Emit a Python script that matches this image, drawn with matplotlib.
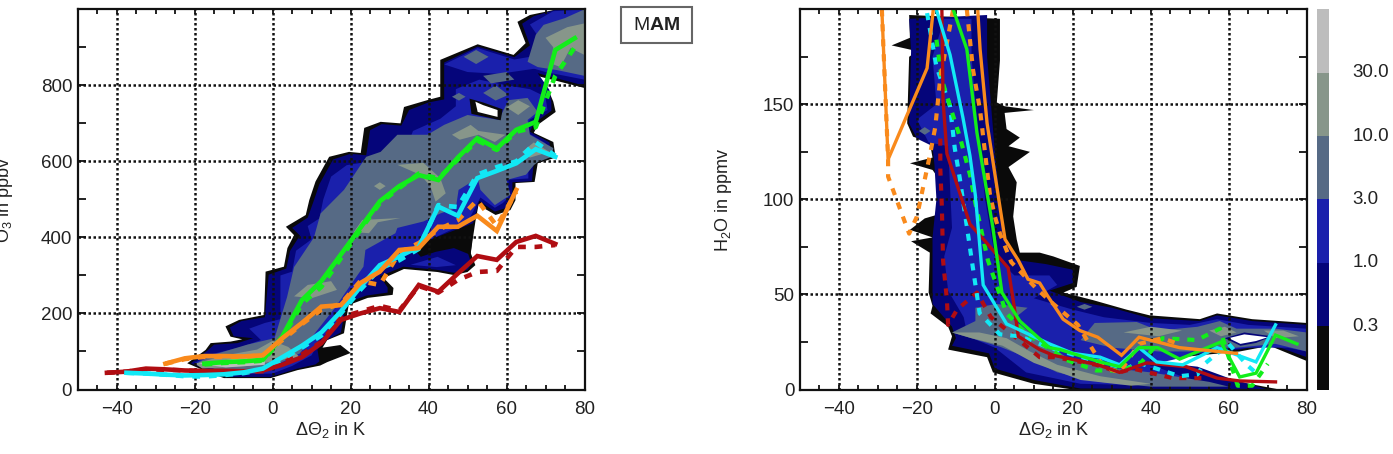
import numpy as np
import matplotlib
matplotlib.use("Agg")
import matplotlib.pyplot as plt
from matplotlib.colors import ListedColormap
from matplotlib.patches import Rectangle
from matplotlib.ticker import MultipleLocator

plt.rcParams["font.family"] = ["Liberation Sans", "DejaVu Sans"]
plt.rcParams["mathtext.fontset"] = "custom"
plt.rcParams["mathtext.rm"] = "Liberation Sans"
plt.rcParams["mathtext.bf"] = "Liberation Sans:bold"

BLACK = "#0a0a0a"
NAVY = "#05057a"
BLUE = "#1a20ac"
SLATE = "#566a85"
SAGE = "#87968a"
LIGHT = "#bdbdbd"
RED = "#b00d12"
ORANGE = "#f98a1c"
GREEN = "#12ee1a"
CYAN = "#12e8f5"

cbar_labels = ["0.3", "1.0", "3.0", "10.0", "30.0"]
cbar_colors = [BLACK, NAVY, BLUE, SLATE, SAGE, LIGHT]

# --- O3 panel, frequency regions (dTheta, ppbv) ---
o3_black = [(-21.9, 69), (-17.2, 104), (-15.9, 122), (-10.8, 126), (-7.8, 132), (-10.8, 139), (-12.1, 166),
            (-8.6, 183), (-2.2, 196), (-1.8, 310), (2.9, 323), (3.8, 372), (5.5, 406), (3.4, 428), (8.5, 459),
            (9.4, 498), (11, 547), (14.5, 612), (19.6, 625), (22.6, 622), (23.5, 688), (27.7, 704), (32.8, 700),
            (33.7, 743), (40, 762), (43, 770), (43, 867), (52.6, 908), (61.8, 880), (64.9, 911), (62.8, 967),
            (66, 985), (73, 1000), (80, 1000), (80, 793), (67, 827), (70.5, 793), (72, 757), (72.6, 730),
            (68, 696), (67, 675), (72, 651), (72.6, 610), (68, 595), (67.2, 546), (62.3, 543), (62.3, 498),
            (61, 472), (57.2, 459), (52.8, 485), (52, 441), (50.8, 359), (52, 327), (50, 309), (46.5, 301),
            (42.3, 309), (33.7, 317), (28.5, 293), (31, 267), (30.8, 249), (24.4, 241), (19.5, 222), (18.3, 148),
            (14, 130), (12.8, 110), (17.4, 117), (20, 96), (14, 72), (12.2, 63), (6.4, 51), (-0.5, 30),
            (-12.5, 30), (-16, 43)]
o3_navy = [(-21, 69), (-17, 100), (-15, 118), (-9, 122), (-5, 135), (-10, 140), (-11, 163), (-8, 180), (-2, 190),
           (-1, 302), (3.5, 318), (4.5, 365), (7, 405), (5, 425), (9, 452), (10.5, 495), (12, 540), (15.5, 605),
           (20, 620), (24, 616), (25, 682), (28, 698), (33, 694), (35, 735), (40, 755), (44, 763), (44, 860),
           (52.6, 902), (62, 874), (66, 905), (64, 962), (67, 982), (73, 1000), (80, 1000), (80, 799), (68, 832),
           (71, 788), (71.5, 755), (71.5, 733), (67, 700), (66, 678), (71, 650), (71.5, 615), (67, 598), (66.5, 548),
           (61.5, 545), (61.5, 500), (60, 478), (57, 468), (53, 496), (51.5, 441), (50, 362), (51, 330), (50, 315),
           (46.5, 307), (42, 315), (33.5, 323), (27.5, 298), (29.5, 268), (29.5, 255), (24, 247), (19, 228),
           (17.5, 150), (13.5, 128), (11.5, 105), (12, 74), (11, 66), (6, 54), (-0.5, 33), (-12, 33),
           (-15.5, 46)]
o3_black_patch = [(38.8, 388), (51.6, 438), (50.8, 354), (46.5, 372), (41.8, 362), (38, 349), (36, 372)]
o3_blue_patch = [(35.4, 328), (42.3, 349), (47, 327), (42, 322)]
o3_blue = [(-20, 70), (-16, 92), (-8, 112), (-3, 130), (-6, 160), (-2, 175), (2, 185), (2, 300), (5, 310), (6, 365),
           (10, 395), (9, 430), (12, 450), (13, 500), (15, 560), (19, 590), (25, 600), (29, 632), (34, 625),
           (36, 680), (43, 712), (47, 745), (47, 790), (53, 815), (60, 800), (66, 790), (70, 770), (70.5, 735),
           (66, 710), (65, 678), (70, 648), (70, 620), (65.6, 600), (65.6, 555), (60.5, 552), (60.5, 505), (59, 490),
           (57, 478), (53.3, 505), (50, 440), (40, 392), (37, 372), (30, 345), (27, 310), (24, 270), (20, 250),
           (17, 175), (12, 130), (10, 90), (5, 62), (0, 42), (-10, 40), (-16, 55)]
o3_blue_top = [(44, 855), (52.6, 898), (62, 868), (66, 875), (68, 845), (58, 830), (50, 835)]
o3_blue_corner = [(65, 850), (68, 930), (66, 960), (72, 995), (80, 1000), (80, 815), (70, 835)]
o3_slate = [(-19, 72), (-15, 92), (-6.5, 118), (0.5, 135), (3.7, 243), (5.5, 322), (10.6, 400), (12.3, 463),
            (18.3, 525), (24, 612), (27.7, 625), (32, 670), (39.7, 670), (44, 696), (50, 722), (58, 709), (60.5, 761),
            (65.4, 767), (68, 730), (65.4, 709), (66, 670), (72, 635), (71.6, 612), (68, 598), (67, 590), (65, 565),
            (60, 551), (61, 512), (57, 485), (53.3, 525), (52.6, 556), (47.7, 525), (47, 477), (43, 463), (38.7, 442),
            (32, 425), (31.5, 411), (23.8, 367), (23.3, 323), (20, 275), (16, 215), (11, 150), (7, 95), (2, 70),
            (-5, 50), (-14, 50)]
o3_slate_corner = [(65.4, 862), (67.5, 933), (69.5, 959), (75, 977), (80, 1000), (80, 825), (73, 840), (68, 848)]
o3_slate_isles = [[(49, 875), (52.2, 893), (55.4, 875), (52.2, 856)],
                  [(46, 770), (47.8, 780), (49.5, 770), (47.8, 760)],
                  [(54, 780), (57.2, 800), (60.5, 775), (57.2, 760)],
                  [(54, 825), (60, 835), (62, 815), (56, 805)]]
o3_sage_isles = [[(-20, 68), (-12, 90), (-4, 105), (0, 128), (4, 112), (7, 85), (2, 78), (-6, 62), (-18, 55)],
                 [(5.5, 245), (9, 275), (15, 285), (16.5, 262), (10, 240)],
                 [(26, 535), (27.5, 545), (29, 535), (27.5, 525)],
                 [(32, 591), (38.7, 596), (43, 556), (44.4, 516), (41.8, 494), (40.5, 534), (38, 564)],
                 [(20.8, 414), (23, 446), (32.8, 451), (27, 440), (24.7, 411)],
                 [(46, 670), (50.8, 696), (52.8, 680), (59.7, 670), (57, 651), (52.8, 670), (48, 657)],
                 [(60, 742), (63, 761), (66, 745), (63, 722)],
                 [(64, 625), (67, 650), (71, 625), (66, 610)],
                 [(70, 925), (75.6, 953), (80, 963), (80, 880), (76.4, 898), (73.8, 848), (71.3, 858), (72, 900)]]
o3_light = [(-19, 68), (-10, 80), (-2, 85), (-2, 65), (-12, 58)]
o3_hole_rim = [(50.5, 765), (51, 725), (58.5, 708), (59, 737), (54, 755)]
o3_hole = [(52, 757), (52.6, 730), (57.7, 717), (57.7, 735), (54, 748)]

# --- O3 panel, profiles (5 K bins) ---
o3_green_x = [-17.5, -12.5, -7.5, -2.5, 2.5, 7.5, 12.5, 17.5, 22.5, 27.5, 32.5, 37.5, 42.5, 47.5, 52.5, 57.5, 62.5, 67.5, 72.5, 77.5]
o3_green = [68, 72, 74, 78, 140, 235, 285, 355, 425, 495, 535, 564, 551, 610, 661, 634, 683, 704, 893, 924]
o3_green_d = [66, 70, 72, 76, 135, 225, 270, 345, 420, 490, 530, 568, 555, 605, 655, 630, 678, 690, 825, 900]
o3_cyan_x = [-37.5, -32.5, -27.5, -22.5, -17.5, -12.5, -7.5, -2.5, 2.5, 7.5, 12.5, 17.5, 22.5, 27.5, 32.5, 37.5, 42.5, 47.5, 52.5, 57.5, 62.5, 67.5, 72.5]
o3_cyan = [44, 42, 39, 37, 38, 40, 45, 55, 85, 115, 150, 205, 270, 327, 350, 375, 481, 457, 556, 575, 595, 632, 612]
o3_cyan_d = [44, 42, 39, 35, 34, 38, 43, 52, 80, 110, 142, 200, 262, 318, 340, 370, 485, 480, 565, 585, 600, 650, 615]
o3_orange_x = [-27.5, -22.5, -17.5, -12.5, -7.5, -2.5, 2.5, 7.5, 12.5, 17.5, 22.5, 27.5, 32.5, 37.5, 42.5, 47.5, 52.5, 57.5, 62.5]
o3_orange = [68, 82, 88, 88, 87, 90, 135, 175, 218, 222, 280, 310, 367, 372, 428, 428, 457, 417, 525]
o3_orange_d = [68, 80, 86, 86, 86, 90, 130, 172, 210, 225, 285, 275, 360, 385, 420, 445, 498, 430, 520]
o3_red_x = [-42.5, -37.5, -32.5, -27.5, -22.5, -17.5, -12.5, -7.5, -2.5, 2.5, 7.5, 12.5, 17.5, 22.5, 27.5, 32.5, 37.5, 42.5, 47.5, 52.5, 57.5, 62.5, 67.5, 72.5]
o3_red = [44, 47, 55, 53, 50, 49, 49, 48, 50, 65, 85, 122, 183, 200, 214, 204, 275, 257, 305, 351, 341, 388, 404, 383]
o3_red_d = [44, 47, 53, 52, 50, 48, 47, 46, 48, 70, 92, 125, 190, 205, 220, 208, 272, 255, 288, 309, 312, 375, 375, 380]

# --- H2O panel, frequency regions (dTheta, ppmv) ---
h2o_black = [(-22, 197), (-21.8, 185), (-26.5, 181), (-20, 178), (-22, 175), (-22.5, 140), (-21, 133), (-16.7, 130),
             (-16, 122), (-21.8, 119), (-16, 115.5), (-13, 107), (-11, 100), (-13, 93), (-18, 90), (-21.8, 84),
             (-16, 80), (-21.5, 78), (-16.7, 72), (-17, 51), (-16, 44), (-16.5, 40), (-12, 33), (-11, 28), (-12, 21),
             (-2, 17), (-0.5, 9), (10, 3), (20, 0), (73, 0), (60, 5), (52, 11), (41.5, 13.5), (41.8, 15.5), (52.6, 18),
             (62.8, 20), (70.5, 23), (80, 15), (80, 35), (66, 37), (57, 40), (52.6, 37), (39.7, 39), (33.8, 42),
             (25.2, 47), (17.6, 51), (21, 54), (21.8, 65), (15, 70), (11.5, 72), (6.4, 72), (5.6, 79), (4.7, 91),
             (5.6, 109), (3.5, 117), (9, 125), (3.5, 128), (6.4, 132.5), (3, 137), (2.5, 145.5), (10, 147), (2.5, 149),
             (0.5, 151), (1.3, 173), (1.3, 195)]
h2o_navy = [(-22, 195), (-21.5, 178), (-22, 140), (-20, 132), (-16, 128), (-15.5, 118), (-15, 100), (-16, 80),
            (-16, 45), (-11, 33), (-10, 27), (-11, 23), (-1.5, 19), (0, 11), (10, 5), (22, 0.5), (70, 0), (60, 6),
            (52, 12), (41, 14.5), (52.6, 19), (62.8, 21), (70.5, 24), (80, 17), (80, 34), (66, 36), (57, 39),
            (52.6, 36), (39.7, 37.5), (30, 43), (22, 46), (14, 52), (20, 56), (20, 63), (13, 66), (6, 68), (2.5, 78),
            (1.5, 96), (0, 125), (-1, 150), (-2, 175), (-2, 197)]
h2o_blue = [(-13, 195), (-16, 175), (-15, 150), (-20, 142), (-17, 130), (-12, 128), (-11, 85), (-13, 70), (-12, 52),
            (-8, 38), (-7, 28), (0, 22), (8, 9), (22, 3), (55, 1.5), (40, 13), (55, 20), (65, 22), (75, 22), (80, 20),
            (80, 32), (65, 34), (57, 37), (50, 34), (40, 35), (28, 38), (20, 42), (10, 48), (16, 55), (14, 60), (5, 60),
            (0, 70), (-2.5, 100), (-4.5, 140), (-6, 175), (-6, 195)]
h2o_slate = [[(-5, 43), (0.4, 45), (8.4, 43), (4.7, 37), (11.5, 26), (18.4, 17), (27, 12), (40, 9), (55, 4), (60, 1.5),
              (40, 1.5), (27, 4), (16, 9), (8, 17), (1.3, 22.5), (-11, 30), (-5, 36)],
             [(25.6, 35), (36.4, 35.5), (42, 31), (52, 33), (57.7, 36), (62, 32), (72, 32), (80, 30), (80, 20), (72, 24),
              (62, 22), (55, 22), (50, 20), (42, 20), (30, 22), (22, 26)],
             [(-19.5, 136), (-18, 138), (-16.5, 136), (-18, 134)],
             [(21, 43.5), (23, 45), (25, 43.5), (23, 42)]]
h2o_sage = [[(-11, 30), (-4, 30), (3, 27), (9, 20), (16, 13), (27, 7), (40, 3), (35, 2), (22, 5), (10, 14), (2, 23), (-6, 27)],
            [(33, 30), (40, 33), (48, 31), (42, 28)],
            [(55, 31), (59, 33), (62, 30), (58, 28)],
            [(69, 31), (74, 31), (78, 28), (72, 27)]]
h2o_hole_rim = [(59, 27), (64, 30), (71, 28), (67, 24.5), (63, 23)]
h2o_hole = [(60, 27), (64, 29), (70, 27.5), (67, 25.5), (63, 24)]

# --- H2O panel, profiles ---
h2o_orange_x = [-29, -27.4, -17.4, -15.8, np.nan, -4.4, -3.8, -2, 1.3, 2.6, 6, 8.5, 11.5, 13.6, 17.5, 21.8, 26.4, 32.5, 37, 47.4, 62]
h2o_orange = [200, 121, 169, 200, np.nan, 200, 179, 140, 96, 79, 68, 58, 56, 49, 37, 31, 27.5, 18, 27.5, 22, 19]
h2o_orange_dx = [-29, -27.4, -27.4, -22, -20, -16.6, -15.3, -14, -10.7, np.nan, -7.2, -5.6, -3.8, -1.3, 0, 1.3, 4.2, 10.7, 15, 21.3, 24.8, 27.8, 32, 37, 43, 47]
h2o_orange_d = [200, 121, 112, 82, 91, 124, 138, 164, 200, np.nan, 200, 168, 147, 103, 91, 82, 67, 53, 45, 34, 22, 12, 9, 24, 27, 24]
h2o_cyan_x = [-14.9, -11.5, -8.2, -6.4, -5, -3, 3, 14, 20, 27, 32, 37, 41.5, 48.2, 57, 67, 72]
h2o_cyan = [199, 176, 143, 123, 102, 55, 34.5, 24, 19, 17, 13, 22, 14.5, 13, 22, 14.5, 34]
h2o_cyan_dx = [-17.4, -15, -11.5, -10.3, -9, -6, -3.9, 1.3, 6.4, 14, 24, 33.7, 37, 47.4, 52, 53.5, 60, 64.6, 68]
h2o_cyan_d = [198, 170, 149, 127, 111, 69, 40, 29, 28, 22, 16, 11, 14, 7, 8, 13, 24, 13, 7]
h2o_green_x = [-10.7, -7.2, -4.6, -0.5, 1.8, 6.4, 14, 16.7, 27, 32, 37, 41.8, 47.4, 58, 62.8, 67, 72, 77.5]
h2o_green = [200, 179, 135, 85, 51, 36, 22, 21, 14.5, 12, 22, 22, 16, 25, 6.6, 8.6, 28.6, 24]
h2o_green_dx = [-15, -13.6, -11.5, -9, -6.4, -5, -1.8, 0.4, 3, 8, 18.4, 26, 32, 37, 43, 51.8, 57.7, 62.3, 66, 70]
h2o_green_d = [184, 163, 149, 133, 113, 98, 68, 55, 40, 29.5, 15.5, 10, 10, 13, 27, 26, 32, 2, 2, 13.5]
h2o_red_x = [-13.6, -13.3, -12.3, -6.4, -2.5, 3.4, 5, 6, 11.5, 15, 26.5, 32, 39, 49, 57, 62.8, 72]
h2o_red = [200, 152, 124, 87, 78, 64, 43, 28, 21, 18, 13, 9, 14, 12, 6, 4.5, 4]
h2o_red_dx = [-14, -14, -13.6, -13.3, -12.3, -12, -9.7, -4.6, -1, 3.8, 11.5, 15.4, 26, 32, 35.4, 45.6, 53.4]
h2o_red_d = [132, 116, 96, 68, 47, 34, 42, 51, 38, 30, 17, 17, 13, 9, 11, 6, 6]


def fill_poly(ax, pts, color, z=1):
    xs, ys = zip(*pts)
    ax.fill(xs, ys, color=color, lw=0, zorder=z)


def style_axes(ax, ymax, ymajor, ytick):
    ax.set_xlim(-50, 80)
    ax.set_ylim(0, ymax)
    ax.set_xticks([-40, -20, 0, 20, 40, 60, 80])
    ax.set_xticklabels(["\u221240", "\u221220", "0", "20", "40", "60", "80"])
    ax.xaxis.set_minor_locator(MultipleLocator(5))
    ax.set_yticks(np.arange(0, ymax, ymajor))
    ax.yaxis.set_minor_locator(MultipleLocator(ytick))
    ax.tick_params(which="major", axis="x", direction="in", top=True, length=3.8, width=1.3, labelsize=13.5, pad=8.5, color="#111111", labelcolor="#222222")
    ax.tick_params(which="minor", axis="x", direction="in", top=True, length=3.8, width=1.3, color="#111111")
    ax.tick_params(which="major", axis="y", direction="in", right=True, length=6, width=1.3, labelsize=13.5, pad=4, color="#111111", labelcolor="#222222")
    ax.tick_params(which="minor", axis="y", direction="in", right=True, length=6, width=1.3, color="#111111")
    for s in ax.spines.values():
        s.set_linewidth(1.6)
        s.set_color("#111111")
        s.set_zorder(10)
    ax.set_xlabel("\u0394\u0398$_{\\mathregular{2}}$ in K", fontsize=13, color="#222222", labelpad=1.5)
    for gx in [-40, -20, 0, 20, 40, 60]:
        ax.axvline(gx, color="#111111", lw=1.8, ls=(0, (1, 1)), zorder=4)
    for gy in np.arange(ymajor, ymax, ymajor):
        ax.axhline(gy, color="#111111", lw=1.8, ls=(0, (1, 1)), zorder=4)


def profile(ax, x, y, color, dashed=False, lw=3.3):
    if dashed:
        ax.plot(x, y, color=color, lw=lw, ls=(0, (1.7, 1.9)), zorder=5)
    else:
        ax.plot(x, y, color=color, lw=lw, zorder=6, solid_joinstyle="miter")


fig = plt.figure(figsize=(13.93, 4.54), dpi=100)
W, H = 1393.0, 454.0
ax1 = fig.add_axes([77.7 / W, 1 - 389.5 / H, (584.5 - 77.7) / W, (389.5 - 9.3) / H])
ax2 = fig.add_axes([800 / W, 1 - 389.5 / H, (1306.7 - 800) / W, (389.5 - 9.3) / H])
cax = fig.add_axes([1316.7 / W, 1 - 389.5 / H, 12 / W, (389.5 - 9.3) / H])

# O3 panel
fill_poly(ax1, o3_black, BLACK)
fill_poly(ax1, o3_navy, NAVY)
fill_poly(ax1, o3_blue, BLUE)
fill_poly(ax1, o3_blue_top, BLUE)
fill_poly(ax1, o3_blue_corner, BLUE)
fill_poly(ax1, o3_slate, SLATE, 2)
fill_poly(ax1, o3_slate_corner, SLATE, 2)
for isle in o3_slate_isles:
    fill_poly(ax1, isle, SLATE, 2)
for isle in o3_sage_isles:
    fill_poly(ax1, isle, SAGE, 3)
fill_poly(ax1, o3_light, LIGHT, 3)
fill_poly(ax1, o3_black_patch, BLACK, 2)
fill_poly(ax1, o3_blue_patch, BLUE, 3)
fill_poly(ax1, o3_hole_rim, BLACK, 3)
fill_poly(ax1, o3_hole, "white", 3)
style_axes(ax1, 1000, 200, 100)
ax1.set_yticks([0, 200, 400, 600, 800])
profile(ax1, o3_red_x, o3_red_d, RED, True)
profile(ax1, o3_cyan_x, o3_cyan_d, CYAN, True)
profile(ax1, o3_green_x, o3_green_d, GREEN, True)
profile(ax1, o3_orange_x, o3_orange_d, ORANGE, True)
profile(ax1, o3_red_x, o3_red, RED)
profile(ax1, o3_cyan_x, o3_cyan, CYAN)
profile(ax1, o3_green_x, o3_green, GREEN)
profile(ax1, o3_orange_x, o3_orange, ORANGE)

# H2O panel
fill_poly(ax2, h2o_black, BLACK)
fill_poly(ax2, h2o_navy, NAVY)
fill_poly(ax2, h2o_blue, BLUE)
for p in h2o_slate:
    fill_poly(ax2, p, SLATE, 2)
for p in h2o_sage:
    fill_poly(ax2, p, SAGE, 3)
fill_poly(ax2, h2o_hole_rim, NAVY, 3)
fill_poly(ax2, h2o_hole, "white", 3)
style_axes(ax2, 200, 50, 25)
ax2.set_yticks([0, 50, 100, 150])
profile(ax2, h2o_red_dx, h2o_red_d, RED, True, 3.0)
profile(ax2, h2o_cyan_dx, h2o_cyan_d, CYAN, True, 3.0)
profile(ax2, h2o_green_dx, h2o_green_d, GREEN, True, 3.0)
profile(ax2, h2o_orange_dx, h2o_orange_d, ORANGE, True, 3.0)
profile(ax2, h2o_red_x, h2o_red, RED, lw=2.4)
profile(ax2, h2o_cyan_x, h2o_cyan, CYAN, lw=2.4)
profile(ax2, h2o_green_x, h2o_green, GREEN, lw=2.4)
profile(ax2, h2o_orange_x, h2o_orange, ORANGE, lw=2.4)

# y labels sit by hand, the left one runs into the image edge as in the source
fig.text(5 / W, 1 - 200 / H, "O$_{\\mathregular{3}}$ in ppbv", rotation=90, ha="center", va="center", fontsize=13, color="#222222")
fig.text(723 / W, 1 - 200 / H, "H$_{\\mathregular{2}}$O in ppmv", rotation=90, ha="center", va="center", fontsize=13, color="#222222")

# colour bar
cax.pcolormesh([0, 1], np.arange(len(cbar_colors) + 1), np.arange(len(cbar_colors)).reshape(-1, 1),
               cmap=ListedColormap(cbar_colors), shading="flat")
cax.set_xticks([])
cax.set_yticks([])
for s in cax.spines.values():
    s.set_visible(False)
for i, lab in enumerate(cbar_labels):
    cax.text(3.0, i + 1, lab, transform=cax.get_yaxis_transform(), ha="left", va="center", fontsize=13.5, color="#222222", clip_on=False)

# season box
fig.add_artist(Rectangle((621 / W, 1 - 42.5 / H), 70.5 / W, 35.5 / H, transform=fig.transFigure,
                         facecolor="white", edgecolor="#666666", lw=1.5))
fig.text(656.3 / W, 1 - 25 / H, "M$\\mathbf{AM}$", ha="center", va="center", fontsize=14, color="#222222")

fig.savefig("out.png", dpi=100)
